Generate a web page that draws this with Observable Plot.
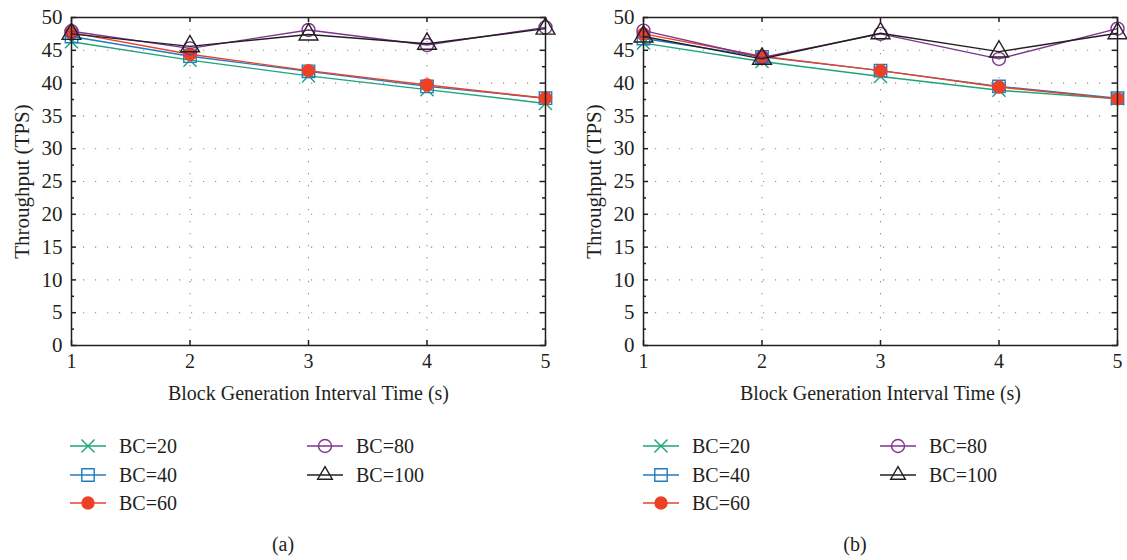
<!DOCTYPE html>
<html>
<head>
<meta charset="utf-8">
<script src="https://cdn.jsdelivr.net/npm/d3@7"></script>
<script src="https://cdn.jsdelivr.net/npm/@observablehq/plot@0.6"></script>
<style>
  body { margin: 0; background: #fff; }
  #wrap { position: relative; width: 1127px; height: 560px; overflow: hidden;
          font-family: "Liberation Serif", "DejaVu Serif", serif; color: #231f20; }
  .panel { position: absolute; top: 0; }
  .item { position: absolute; display: flex; align-items: center; font-size: 20px; line-height: 1; white-space: nowrap; }
  .item svg { display: block; margin-right: 13px; }
  .cap { position: absolute; font-size: 20px; transform: translateX(-50%); }
</style>
</head>
<body>
<div id="wrap"></div>
<script>
// Block generation interval (s) on the x axis
const intervals = [1, 2, 3, 4, 5];
const seriesNames = ["BC=20", "BC=40", "BC=60", "BC=80", "BC=100"];
const yTicks = [0, 5, 10, 15, 20, 25, 30, 35, 40, 45, 50];
const yMinorTicks = [2.5, 7.5, 12.5, 17.5, 22.5, 27.5, 32.5, 37.5, 42.5, 47.5];

// Throughput (TPS), panel (a)
const a_bc20  = [46.3, 43.5, 41.1, 39.0, 36.9];
const a_bc40  = [47.1, 44.1, 41.8, 39.5, 37.7];
const a_bc60  = [47.7, 44.4, 41.9, 39.7, 37.7];
const a_bc80  = [47.9, 45.3, 48.1, 45.8, 48.5];
const a_bc100 = [47.5, 45.6, 47.4, 46.0, 48.3];

// Throughput (TPS), panel (b)
const b_bc20  = [46.1, 43.3, 41.0, 38.9, 37.6];
const b_bc40  = [46.8, 44.0, 41.9, 39.5, 37.7];
const b_bc60  = [47.5, 44.1, 41.9, 39.4, 37.6];
const b_bc80  = [48.0, 43.9, 47.5, 43.7, 48.3];
const b_bc100 = [47.1, 43.7, 47.6, 44.8, 47.6];

const colors  = ["#1fa37a", "#1f7dc1", "#ec4027", "#7d3590", "#231f20"];
const symbols = ["times", "square", "circle", "circle", "triangle"];
const filled  = [false, false, true, false, false];
const radii   = [6, 7, 6, 6.5, 7];

const ink = "#231f20";
const font = '"Liberation Serif", "DejaVu Serif", serif';

function toRows(seriesValues) {
  return seriesNames.map((name, i) =>
    intervals.map((x, j) => ({series: name, x, y: seriesValues[i][j]})));
}

function panel(seriesValues, {width, marginLeft, marginRight}) {
  const height = 410, marginTop = 17, marginBottom = 65;
  const W = width - marginLeft - marginRight;
  const H = height - marginTop - marginBottom;
  const rows = toRows(seriesValues);
  const dotted = {stroke: "#8a8a8a", strokeOpacity: 1, strokeWidth: 1.1, strokeDasharray: "1.2,10.8"};
  const tickStyle = {stroke: ink, strokeWidth: 1.5};
  const seriesMarks = rows.flatMap((data, i) => [
    Plot.line(data, {x: "x", y: "y", stroke: colors[i], strokeWidth: 1.4}),
    Plot.dot(data, {x: "x", y: "y", symbol: symbols[i], r: radii[i],
      stroke: colors[i], strokeWidth: 1.4, fill: filled[i] ? colors[i] : "none"})
  ]);
  return Plot.plot({
    width, height, marginTop, marginBottom, marginLeft, marginRight,
    style: {fontFamily: font, fontSize: "20px", color: ink, background: "transparent", overflow: "visible"},
    x: {domain: [1, 5]},
    y: {domain: [0, 50]},
    marks: [
      Plot.gridX(intervals.slice(1, -1), dotted),
      Plot.gridY(yTicks.slice(1, -1), dotted),
      // inward tick marks on all four sides
      Plot.tickY(yTicks, {y: d => d, insetRight: W - 5, ...tickStyle}),
      Plot.tickY(yTicks, {y: d => d, insetLeft: W - 5, ...tickStyle}),
      Plot.tickY(yMinorTicks, {y: d => d, insetRight: W - 3, ...tickStyle}),
      Plot.tickY(yMinorTicks, {y: d => d, insetLeft: W - 3, ...tickStyle}),
      Plot.tickX(intervals, {x: d => d, insetTop: H - 5, ...tickStyle}),
      Plot.tickX(intervals, {x: d => d, insetBottom: H - 5, ...tickStyle}),
      Plot.axisX(intervals, {tickSize: 0, tickPadding: 8, tickFormat: "d",
        label: "Block Generation Interval Time (s)",
        labelAnchor: "center", labelArrow: "none", labelOffset: 54}),
      Plot.axisY(yTicks, {tickSize: 0, tickPadding: 9, tickFormat: "d",
        label: "Throughput (TPS)", fontSize: 21,
        labelAnchor: "center", labelArrow: "none", labelOffset: 57}),
      ...seriesMarks,
      Plot.frame({stroke: ink, strokeWidth: 1.5})
    ]
  });
}

const wrap = document.getElementById("wrap");

function place(node, left) {
  node.classList.add("panel");
  node.style.left = left + "px";
  wrap.appendChild(node);
}

place(panel([a_bc20, a_bc40, a_bc60, a_bc80, a_bc100], {width: 563, marginLeft: 71, marginRight: 18}), 0);
place(panel([b_bc20, b_bc40, b_bc60, b_bc80, b_bc100], {width: 564, marginLeft: 80, marginRight: 10}), 563);

// legend swatch: a short line with the series marker in the middle
function swatch(i) {
  const w = 36, h = 20;
  const svg = d3.create("svg").attr("width", w).attr("height", h);
  svg.append("line").attr("x1", 0).attr("x2", w).attr("y1", h / 2).attr("y2", h / 2)
    .attr("stroke", colors[i]).attr("stroke-width", 1.4);
  const sym = {times: d3.symbolTimes, square: d3.symbolSquare, circle: d3.symbolCircle, triangle: d3.symbolTriangle2}[symbols[i]];
  const r = radii[i];
  svg.append("path").attr("d", d3.symbol(sym, Math.PI * r * r)())
    .attr("transform", `translate(${w / 2},${h / 2})`)
    .attr("stroke", colors[i]).attr("stroke-width", 1.4)
    .attr("fill", filled[i] ? colors[i] : "none");
  return svg.node();
}

function legend(col1, col2) {
  const rowsY = [446, 475, 503];
  seriesNames.forEach((name, i) => {
    const left = i < 3 ? col1 : col2;
    const top = i < 3 ? rowsY[i] : rowsY[i - 3];
    const item = document.createElement("div");
    item.className = "item";
    item.style.left = left + "px";
    item.style.top = (top - 10) + "px";
    item.appendChild(swatch(i));
    const label = document.createElement("span");
    label.textContent = name;
    item.appendChild(label);
    wrap.appendChild(item);
  });
}
legend(70, 307);
legend(643, 880);

function caption(text, x) {
  const c = document.createElement("div");
  c.className = "cap";
  c.style.left = x + "px";
  c.style.top = "533px";
  c.textContent = text;
  wrap.appendChild(c);
}
caption("(a)", 283);
caption("(b)", 855);
</script>
</body>
</html>
